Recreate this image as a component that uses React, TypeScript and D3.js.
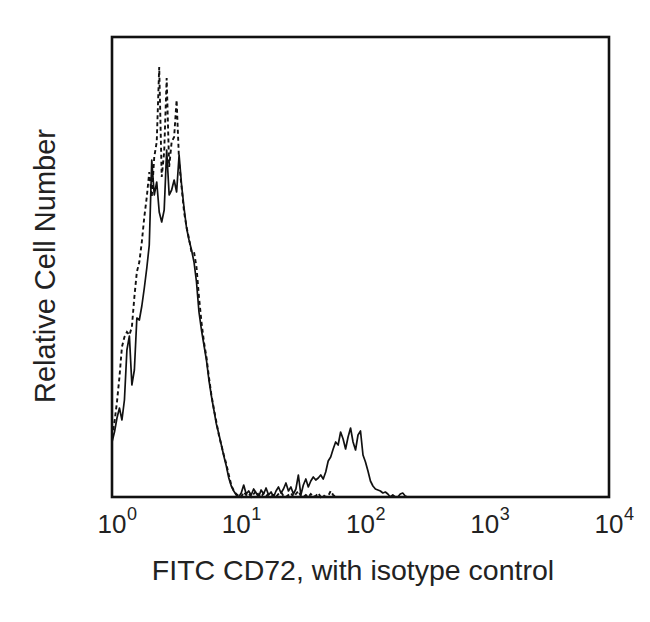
import React from 'react';
import * as d3 from 'd3';

// histogram counts per channel, 50 channels per decade starting at 10^0
const CHANNELS_PER_DECADE = 50;

const stainedCounts = [
  55, 65, 79, 89, 77, 97, 147, 161, 112, 127,
  179, 177, 191, 209, 229, 252, 337, 302, 315, 285,
  275, 287, 347, 302, 307, 317, 305, 342, 312, 289,
  269, 257, 247, 235, 215, 185, 167, 152, 137, 117,
  101, 87, 73, 63, 52, 41, 31, 19, 11, 6,
  2, 0, 4, 12, 3, 6, 2, 8, 4, 0,
  7, 3, 9, 2, 5, 0, 6, 10, 4, 8,
  14, 6, 10, 3, 8, 22, 2, 12, 18, 10,
  16, 20, 17, 19, 22, 18, 25, 36, 40, 48,
  55, 52, 65, 58, 48, 60, 69, 55, 47, 62,
  66, 42, 35, 26, 16, 11, 8, 7, 6, 4,
  5, 3, 0, 2, 0, 0, 3, 4, 1, 0,
];

const isotypeCounts = [
  60, 75, 95, 120, 150, 160, 165, 162, 170, 200,
  225, 235, 255, 280, 300, 325, 300, 340, 355, 430,
  320, 345, 419, 330, 355, 360, 397, 335, 310, 285,
  270, 258, 245, 245, 230, 200, 175, 155, 140, 120,
  102, 88, 75, 62, 52, 42, 33, 22, 12, 6,
  3, 1, 0, 5, 2, 4, 0, 3, 6, 2,
  0, 4, 1, 3, 0, 2, 0, 3, 5, 1,
  0, 2, 4, 0, 3, 6, 1, 0, 2, 0,
  3, 0, 1, 4, 0, 2, 0, 1, 6, 2,
  0,
];

const tickExponents = [0, 1, 2, 3, 4];
const xLabel = 'FITC CD72, with isotype control';
const yLabel = 'Relative Cell Number';

const width = 650;
const height = 622;
const plot = { left: 112, right: 609, top: 37, bottom: 497 };
const font = '"Liberation Sans", Arial, Helvetica, sans-serif';

const toPoints = (counts: number[]) =>
  counts.map((c, i) => ({ v: Math.pow(10, i / CHANNELS_PER_DECADE), c }));

export default function App() {
  const x = d3.scaleLog().domain([1, 10000]).range([plot.left, plot.right]);
  const y = d3.scaleLinear().domain([0, 460]).range([plot.bottom, plot.top]);

  const line = d3
    .line<{ v: number; c: number }>()
    .x((d) => x(d.v))
    .y((d) => y(d.c));

  return (
    <div style={{ position: 'fixed', left: 0, top: 0 }}>
      <svg width={width} height={height} style={{ display: 'block', background: '#fff' }}>
        <path
          d={line(toPoints(isotypeCounts)) ?? ''}
          fill="none"
          stroke="#111"
          strokeWidth={1.9}
          strokeDasharray="4 3"
        />
        <path
          d={line(toPoints(stainedCounts)) ?? ''}
          fill="none"
          stroke="#111"
          strokeWidth={1.7}
          strokeLinejoin="round"
        />

        {/* frame */}
        <rect
          x={plot.left}
          y={plot.top}
          width={plot.right - plot.left}
          height={plot.bottom - plot.top}
          fill="none"
          stroke="#111"
          strokeWidth={2.6}
        />

        {/* tick labels */}
        {tickExponents.map((e) => {
          const tx = x(Math.pow(10, e));
          return (
            <g key={e} fontFamily={font} fill="#222">
              <text x={tx} y={533} fontSize={26} textAnchor="middle">
                10
              </text>
              <text x={tx + 15} y={520} fontSize={18}>
                {e}
              </text>
            </g>
          );
        })}

        <text
          x={353}
          y={580}
          textAnchor="middle"
          fontFamily={font}
          fontSize={28.5}
          fill="#222"
        >
          {xLabel}
        </text>
        <text
          transform={`translate(55, 266) rotate(-90)`}
          textAnchor="middle"
          fontFamily={font}
          fontSize={29}
          fill="#222"
        >
          {yLabel}
        </text>
      </svg>
    </div>
  );
}
